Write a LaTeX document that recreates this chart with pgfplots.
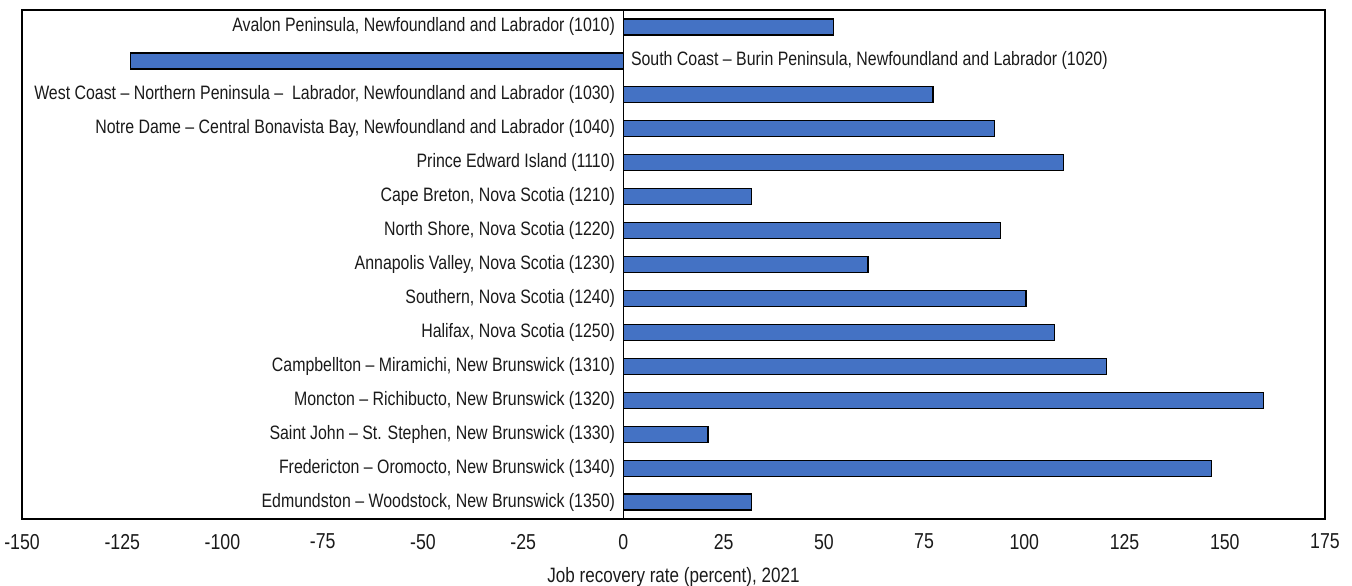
\documentclass[border=0pt]{standalone}
\usepackage{fontspec}
\setmainfont{Liberation Sans}[FakeStretch=0.82]
\usepackage{pgfplots}
\pgfplotsset{compat=1.18}
\definecolor{barblue}{HTML}{4472C4}
\definecolor{txt}{HTML}{1A1A1A}
\begin{document}
\begin{tikzpicture}
\begin{axis}[
  scale only axis,
  width=651.5pt, height=254.5pt,
  xmin=-150, xmax=175,
  ymin=-0.5, ymax=14.5,
  y dir=reverse,
  xbar, bar width=8pt,
  xtick={-150,-125,...,175},
  xticklabels={-150,-125,-100,-75,-50,-25,0,25,50,75,100,125,150,175},
  ytick=\empty,
  major tick length=0pt,
  axis line style={line width=0.8pt, black},
  tick label style={font=\fontsize{10.8pt}{12pt}\selectfont, text=txt},
  xticklabel style={yshift=-4pt},
  xlabel={Job recovery rate (percent), 2021},
  xlabel style={font=\fontsize{10.4pt}{12pt}\selectfont, text=txt, yshift=-2pt},
  clip=false,
]
\addplot[fill=barblue, draw=black, line width=0.6pt] coordinates {
(52.5,0) (-123,1) (77.2,2) (92.6,3) (109.7,4) (32,5) (94,6) (61,7)
(100.4,8) (107.5,9) (120.5,10) (159.7,11) (21.1,12) (146.6,13) (32,14)
};
\draw[black, line width=0.8pt] (axis cs:0,-0.5) -- (axis cs:0,14.5);
\begin{scope}[every node/.style={font=\fontsize{9.7pt}{11pt}\selectfont, text=txt, inner sep=0pt}]
\node[anchor=east] at (axis cs:-2,0) {Avalon Peninsula, Newfoundland and Labrador (1010)};
\node[anchor=west] at (axis cs:1.8,1) {South Coast -- Burin Peninsula, Newfoundland and Labrador (1020)};
\node[anchor=east] at (axis cs:-2,2) {West Coast -- Northern Peninsula --\ \ Labrador, Newfoundland and Labrador (1030)};
\node[anchor=east] at (axis cs:-2,3) {Notre Dame -- Central Bonavista Bay, Newfoundland and Labrador (1040)};
\node[anchor=east] at (axis cs:-2,4) {Prince Edward Island (1110)};
\node[anchor=east] at (axis cs:-2,5) {Cape Breton, Nova Scotia (1210)};
\node[anchor=east] at (axis cs:-2,6) {North Shore, Nova Scotia (1220)};
\node[anchor=east] at (axis cs:-2,7) {Annapolis Valley, Nova Scotia (1230)};
\node[anchor=east] at (axis cs:-2,8) {Southern, Nova Scotia (1240)};
\node[anchor=east] at (axis cs:-2,9) {Halifax, Nova Scotia (1250)};
\node[anchor=east] at (axis cs:-2,10) {Campbellton -- Miramichi, New Brunswick (1310)};
\node[anchor=east] at (axis cs:-2,11) {Moncton -- Richibucto, New Brunswick (1320)};
\node[anchor=east] at (axis cs:-2,12) {Saint John -- St. Stephen, New Brunswick (1330)};
\node[anchor=east] at (axis cs:-2,13) {Fredericton -- Oromocto, New Brunswick (1340)};
\node[anchor=east] at (axis cs:-2,14) {Edmundston -- Woodstock, New Brunswick (1350)};
\end{scope}
\end{axis}
\pgfresetboundingbox
\path[use as bounding box] (-11pt,-33pt) rectangle (665pt,259.5pt);
\end{tikzpicture}
\end{document}
